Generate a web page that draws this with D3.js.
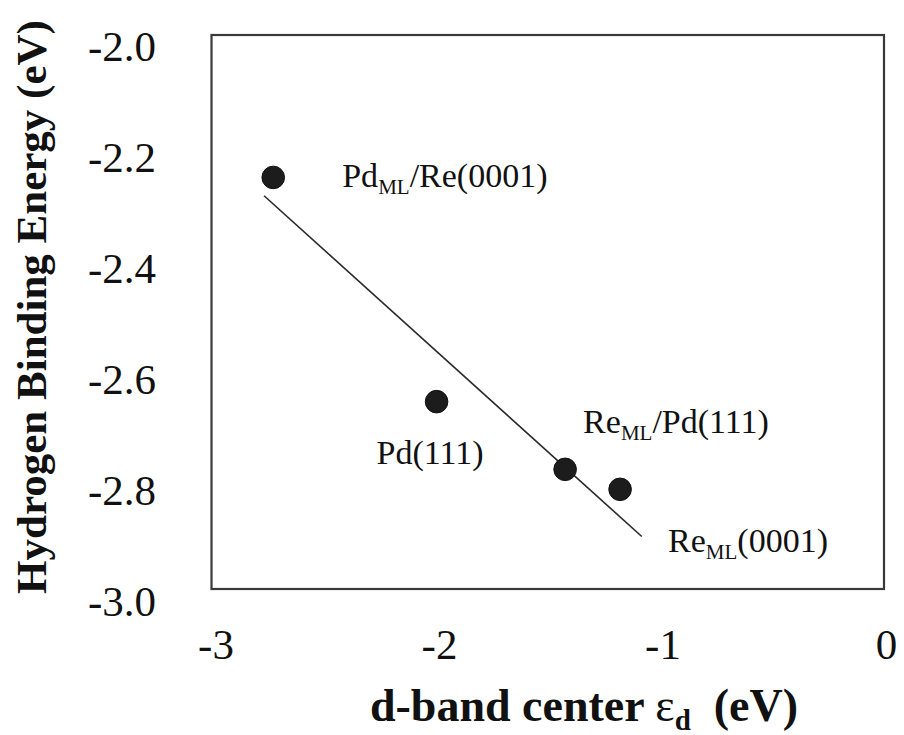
<!DOCTYPE html>
<html>
<head>
<meta charset="utf-8">
<script src="https://cdn.jsdelivr.net/npm/d3@7"></script>
<style>
  html, body { margin: 0; padding: 0; background: #fff; }
  svg { display: block; }
  text { font-family: "Liberation Serif", "Times New Roman", Times, serif; fill: #111; }
</style>
</head>
<body>
<svg id="chart" width="904" height="735"></svg>
<script>
// ---- data ----
const surfaces = ["Pd_ML/Re(0001)", "Pd(111)", "Re_ML/Pd(111)", "Re_ML(0001)"];
const dBandCenter = [-2.744, -2.013, -1.438, -1.192];
const bindingEnergy = [-2.235, -2.639, -2.761, -2.797];
const fitX = [-2.785, -1.095];
const fitY = [-2.268, -2.882];
const xTicks = [-3, -2, -1, 0];
const yTicks = [-2.0, -2.2, -2.4, -2.6, -2.8, -3.0];

// ---- layout ----
const svg = d3.select("#chart");
const x = d3.scaleLinear().domain([-3, 0]).range([216, 886.5]);
const y = d3.scaleLinear().domain([-2, -3]).range([47, 602]);
const frame = {x0: 211.5, y0: 35, x1: 884, y1: 589};

// frame
svg.append("rect")
  .attr("x", frame.x0).attr("y", frame.y0)
  .attr("width", frame.x1 - frame.x0).attr("height", frame.y1 - frame.y0)
  .attr("fill", "none").attr("stroke", "#3a3a3a").attr("stroke-width", 2.2);

// x tick labels
svg.append("g").selectAll("text").data(xTicks).join("text")
  .attr("x", d => x(d)).attr("y", 659)
  .attr("text-anchor", "middle").attr("font-size", 43)
  .text(d => d === 0 ? "0" : "-" + Math.abs(d));

// y tick labels
svg.append("g").selectAll("text").data(yTicks).join("text")
  .attr("x", 156).attr("y", d => y(d) + 14)
  .attr("text-anchor", "end").attr("font-size", 43)
  .text(d => "-" + Math.abs(d).toFixed(1));

// fit line
svg.append("line")
  .attr("x1", x(fitX[0])).attr("y1", y(fitY[0]))
  .attr("x2", x(fitX[1])).attr("y2", y(fitY[1]))
  .attr("stroke", "#2a2a2a").attr("stroke-width", 1.6);

// points
const pts = surfaces.map((s, i) => ({name: s, x: dBandCenter[i], y: bindingEnergy[i]}));
svg.append("g").selectAll("circle").data(pts).join("circle")
  .attr("cx", d => x(d.x)).attr("cy", d => y(d.y)).attr("r", 11.3)
  .attr("fill", "#1c1c1c").attr("stroke", "#111").attr("stroke-width", 1);

// point labels (offsets are layout)
const labelOffsets = [[69, 10], [-60, 62], [18, -36], [48, 63]];
pts.forEach((p, i) => {
  const t = svg.append("text")
    .attr("x", x(p.x) + labelOffsets[i][0])
    .attr("y", y(p.y) + labelOffsets[i][1])
    .attr("font-size", 34);
  const parts = p.name.split("_ML");
  if (parts.length === 2) {
    t.append("tspan").text(parts[0]);
    t.append("tspan").attr("font-size", 21).attr("dy", 7).text("ML");
    t.append("tspan").attr("dy", -7).text(parts[1]);
  } else {
    t.text(p.name);
  }
});

// x axis title
const xt = svg.append("text")
  .attr("x", 584).attr("y", 721)
  .attr("text-anchor", "middle").attr("font-size", 46).attr("font-weight", "bold");
xt.append("tspan").text("d-band center ");
xt.append("tspan").attr("font-weight", "normal").text("ε");
xt.append("tspan").attr("font-size", 29).attr("dy", 9).text("d");
xt.append("tspan").attr("dy", -9).text("\u00a0 (eV)");

// y axis title
svg.append("text")
  .attr("transform", "translate(46,307) rotate(-90)")
  .attr("text-anchor", "middle").attr("font-size", 43).attr("font-weight", "bold")
  .text("Hydrogen Binding Energy (eV)");
</script>
</body>
</html>
